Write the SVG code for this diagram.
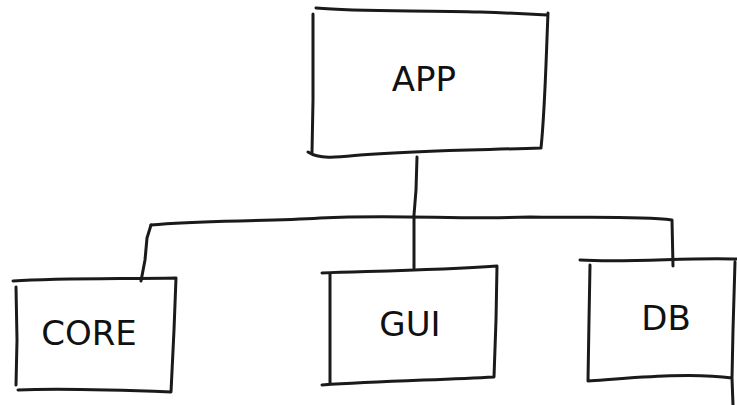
<svg xmlns="http://www.w3.org/2000/svg" width="737" height="405" viewBox="0 0 737 405">
<style>
.ln{fill:none;stroke:#1a1a1a;stroke-width:3;stroke-linecap:round;stroke-linejoin:round}
.lbl{font-family:"DejaVu Sans","Noto Sans",sans-serif;font-size:34px;fill:#111;text-anchor:middle}
</style>
<rect width="737" height="405" fill="#ffffff"/>
<g id="connectors">
<path class="ln" d="M417 157 L416 190 L414 215 L414 268"/>
<path class="ln" d="M151 225 C200 220 260 222 320 218 C400 214 460 220 530 217 C600 218 640 216 672 220 L673 266"/>
<path class="ln" d="M151 225 L147 238 L145 260 L141 281"/>
</g>
<g id="app">
<path class="ln" d="M316 8 C360 12 420 10 480 12 C510 13 530 14 547 15 M548 13 C546 60 545 110 541 148 C480 150 420 150 360 155 C340 157 320 160 308 152 M313 14 L313 100 L312 153"/>
<text class="lbl" x="424" y="91">APP</text>
</g>
<g id="core">
<path class="ln" d="M13 281 C60 278 120 279 176 278 L174 330 L171 392 C120 390 60 388 18 390 M16 287 L17 340 L16 385"/>
<text class="lbl" x="89" y="345">CORE</text>
</g>
<g id="gui">
<path class="ln" d="M322 273 C380 271 440 270 497 266 L496 320 L494 377 C440 380 380 381 322 385 M330 274 L330 330 L330 384"/>
<text class="lbl" x="410" y="336">GUI</text>
</g>
<g id="db">
<path class="ln" d="M580 260 C630 263 690 257 737 259 M590 265 L589 320 L588 381 C630 378 690 372 732 378 L733 405 M735 262 L733 330 L732 378"/>
<text class="lbl" x="666" y="330">DB</text>
</g>
</svg>
